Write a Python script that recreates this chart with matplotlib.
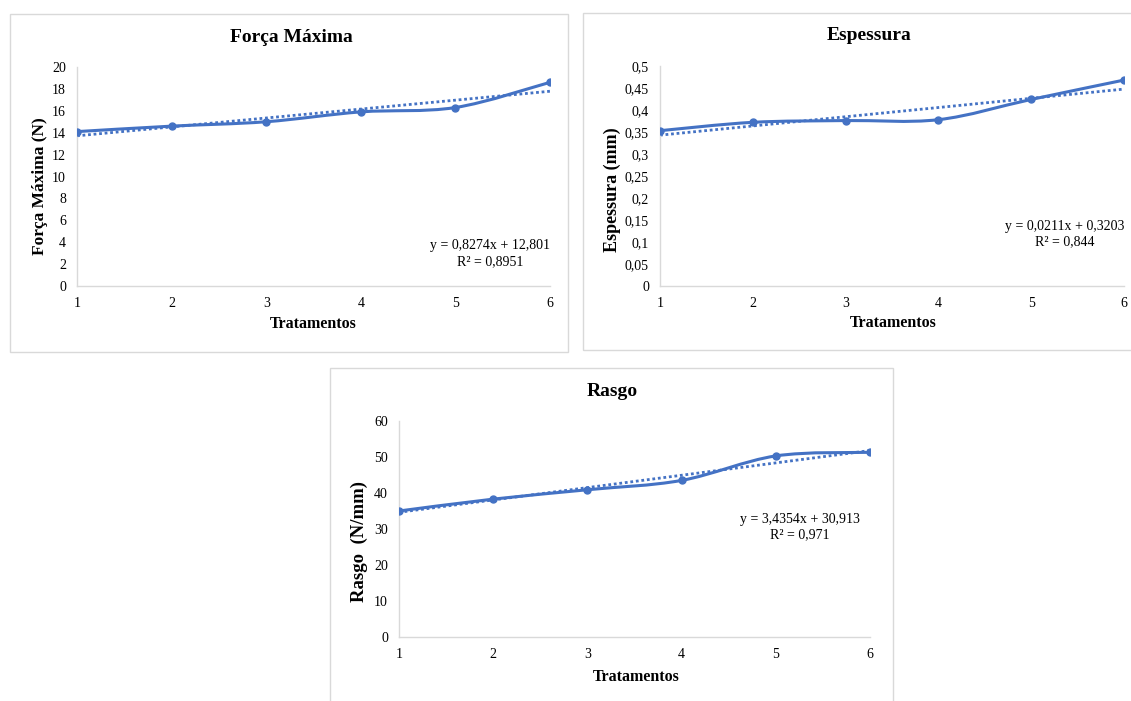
import numpy as np
import matplotlib
matplotlib.use("Agg")
import matplotlib.pyplot as plt
from matplotlib.path import Path
from matplotlib.patches import PathPatch, Rectangle

plt.rcParams['font.family'] = ['Liberation Serif', 'DejaVu Serif']

# dados
tratamentos = [1, 2, 3, 4, 5, 6]
forca_maxima = [14.1, 14.6, 15.0, 15.9, 16.3, 18.6]
espessura = [0.353, 0.372, 0.376, 0.378, 0.424, 0.468]
rasgo = [35.0, 38.3, 40.9, 43.5, 50.3, 51.3]

eq_forca = "y = 0,8274x + 12,801\nR² = 0,8951"
eq_espessura = "y = 0,0211x + 0,3203\nR² = 0,844"
eq_rasgo = "y = 3,4354x + 30,913\nR² = 0,971"

yticks_forca = [0, 2, 4, 6, 8, 10, 12, 14, 16, 18, 20]
yticks_espessura = [0, 0.05, 0.1, 0.15, 0.2, 0.25, 0.3, 0.35, 0.4, 0.45, 0.5]
yticks_rasgo = [0, 10, 20, 30, 40, 50, 60]

AZUL = '#4472C4'
CINZA = '#d9d9d9'
W, H = 1131, 701


def fig_box(fig, x0, y0, x1, y1):
    # retângulo em pixels (origem no topo)
    fig.patches.append(Rectangle((x0 / W, 1 - y1 / H), (x1 - x0) / W, (y1 - y0) / H,
                                 transform=fig.transFigure, fill=False,
                                 edgecolor=CINZA, linewidth=1.0))


def smooth_path(x, y):
    # curva suavizada tipo Excel (Catmull-Rom em Bezier)
    pts = np.column_stack([x, y]).astype(float)
    ext = np.vstack([pts[0], pts, pts[-1]])
    verts = [pts[0]]
    codes = [Path.MOVETO]
    for i in range(1, len(ext) - 2):
        p0, p1, p2, p3 = ext[i - 1], ext[i], ext[i + 1], ext[i + 2]
        c1 = p1 + (p2 - p0) / 6.0
        c2 = p2 - (p3 - p1) / 6.0
        verts += [c1, c2, p2]
        codes += [Path.CURVE4] * 3
    return Path(verts, codes)


def make_panel(fig, rect, values, yticks, fmt, title, ylabel, eq, title_px, xlabel_px,
               ylabel_px, ylabel_size, eq_px):
    ax = fig.add_axes(rect)
    x = np.array(tratamentos)
    y = np.array(values)
    coef = np.polyfit(x, y, 1)
    ax.plot(x, np.polyval(coef, x), linestyle=(0, (1, 1)), color=AZUL, linewidth=2.0, zorder=2)
    ax.add_patch(PathPatch(smooth_path(x, y), fill=False, edgecolor=AZUL, linewidth=2.2, zorder=3))
    ax.plot(x, y, 'o', color=AZUL, markersize=5, zorder=4)

    ax.set_xlim(1, 6)
    ax.set_ylim(yticks[0], yticks[-1])
    ax.set_xticks(tratamentos)
    ax.set_yticks(yticks)
    ax.set_yticklabels([fmt(v) for v in yticks])
    ax.tick_params(length=0, labelsize=10, pad=8)
    for s in ['top', 'right']:
        ax.spines[s].set_visible(False)
    for s in ['left', 'bottom']:
        ax.spines[s].set_color(CINZA)
        ax.spines[s].set_linewidth(1.0)

    fig.text(title_px[0] / W, 1 - title_px[1] / H, title, ha='center', va='center',
             fontsize=14, fontweight='bold')
    fig.text(xlabel_px[0] / W, 1 - xlabel_px[1] / H, 'Tratamentos', ha='center', va='center',
             fontsize=11.5, fontweight='bold')
    fig.text(ylabel_px[0] / W, 1 - ylabel_px[1] / H, ylabel, ha='center', va='center',
             fontsize=ylabel_size, fontweight='bold', rotation=90)
    fig.text(eq_px[0] / W, 1 - eq_px[1] / H, eq, ha='center', va='center',
             fontsize=10, linespacing=1.3)
    return ax


def fmt_int(v):
    return str(int(v))


def fmt_dec(v):
    s = ('%.2f' % v).rstrip('0').rstrip('.')
    return s.replace('.', ',')


def main():
    fig = plt.figure(figsize=(W / 100, H / 100), dpi=100)

    fig_box(fig, 10, 14, 568, 352)
    fig_box(fig, 583, 13, 1140, 350)
    fig_box(fig, 330, 368, 893, 710)

    make_panel(fig, [77 / W, 1 - 286 / H, 473 / W, 219 / H], forca_maxima, yticks_forca, fmt_int,
               'Força Máxima', 'Força Máxima (N)', eq_forca,
               (291, 38), (313, 324), (40, 186), 12.5, (490, 254))
    make_panel(fig, [660 / W, 1 - 286 / H, 464 / W, 220 / H], espessura, yticks_espessura, fmt_dec,
               'Espessura', 'Espessura (mm)', eq_espessura,
               (869, 36), (893, 323), (612, 190), 13, (1065, 234))
    make_panel(fig, [399 / W, 1 - 637 / H, 471 / W, 216 / H], rasgo, yticks_rasgo, fmt_int,
               'Rasgo', 'Rasgo  (N/mm)', eq_rasgo,
               (612, 392), (636, 677), (359, 542), 13.5, (800, 527))

    fig.savefig('out.png', dpi=100)


if __name__ == "__main__":
    main()
